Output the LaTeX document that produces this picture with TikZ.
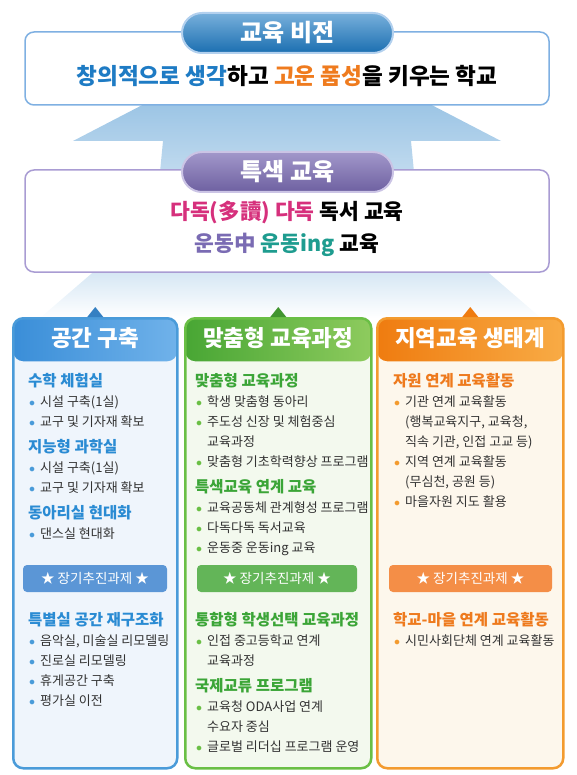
\documentclass[tikz,border=0pt]{standalone}
\usepackage{fontspec}
\setmainfont{Noto Sans CJK KR}
\usetikzlibrary{positioning}

\definecolor{visblue}{HTML}{1E7BC4}
\definecolor{visorange}{HTML}{EF7B1E}
\definecolor{visborder}{HTML}{7FB0E2}
\definecolor{spborder}{HTML}{A99CD3}
\definecolor{dpink}{HTML}{D6307C}
\definecolor{dpurple}{HTML}{7A6BB3}
\definecolor{dteal}{HTML}{1E9C8F}
\definecolor{textgray}{HTML}{333333}
% blue column
\definecolor{kblue}{HTML}{4A9BD9}
\definecolor{kbluel}{HTML}{3A8ED8}
\definecolor{kbluer}{HTML}{70B2EA}
\definecolor{kbluebg}{HTML}{EFF5FC}
\definecolor{kbluetx}{HTML}{2A8BD3}
\definecolor{kbluebn}{HTML}{5B96D6}
% green column
\definecolor{kgreen}{HTML}{6ABF45}
\definecolor{kgreenl}{HTML}{48A634}
\definecolor{kgreenr}{HTML}{8ECB5E}
\definecolor{kgreenbg}{HTML}{F3F9EE}
\definecolor{kgreentx}{HTML}{3BA537}
\definecolor{kgreenbn}{HTML}{63B558}
% orange column
\definecolor{korange}{HTML}{F39B2F}
\definecolor{korangel}{HTML}{EF7C10}
\definecolor{koranger}{HTML}{F8AB45}
\definecolor{korangebg}{HTML}{FDF7EC}
\definecolor{korangetx}{HTML}{EE7A1D}
\definecolor{korangebn}{HTML}{F48E47}

\newcommand{\hd}[2]{{\fontsize{15.5}{20}\selectfont\bfseries\textcolor{#1}{#2}}}
\newcommand{\itm}[2]{\makebox[12pt][l]{\hspace{1pt}\textcolor{#1}{$\bullet$}}#2}
\newcommand{\cont}{\hspace*{12pt}}

\begin{document}
\begin{tikzpicture}[x=1pt,y=1pt,
	mainbox/.style={draw=#1, line width=1.5pt, rounded corners=9pt, fill=white, minimum width=524pt},
	pill/.style={draw=#1, line width=2pt, rounded corners=20pt, minimum width=211pt, minimum height=40pt, text=white, font=\fontsize{24}{28}\selectfont\bfseries},
	column/.style={draw=#1, line width=2.5pt, rounded corners=10pt, anchor=north west, minimum height=450pt, fill=#1bg,
		path picture={\shade[left color=#1l, right color=#1r] (path picture bounding box.north west) rectangle ([yshift=-43pt]path picture bounding box.north east);}},
	headtext/.style={text=white, font=\fontsize{22.5}{26}\selectfont\bfseries},
	banner/.style={fill=#1, rounded corners=4pt, minimum height=27pt, text=white, font=\fontsize{13.5}{16}\selectfont},
	listtext/.style={anchor=north west, inner sep=0pt, align=left, text=textgray, font=\fontsize{13}{20}\selectfont}]
	\useasboundingbox (0,0) rectangle (576,-775);

	% big arrows behind the boxes
	\shade[top color=visblue!45, bottom color=visblue!28] (152,-100) -- (73,-141) -- (163,-141) -- (160,-172) -- (414,-172) -- (411,-141) -- (501,-141) -- (422,-100) -- cycle;
	\shade[top color=visblue!20, bottom color=white] (98,-268) -- (40,-318) -- (541,-318) -- (483,-268) -- cycle;

	% vision
	\node[mainbox=visborder, minimum height=73pt] (vis) at (287,-68.5) {};
	\node[pill=visborder!60, top color=visblue!60, bottom color=visblue!90!black] (vistag) at (287.5,-33) {교육 비전};
	\node[font=\fontsize{22.6}{26}\selectfont\bfseries] (vistext) at (287,-76)
		{\textcolor{visblue}{창의적으로 생각}하고 \textcolor{visorange}{고운 품성}을 키우는 학교};

	% special education
	\node[mainbox=spborder, minimum height=102pt] (spec) at (287,-221) {};
	\node[pill=spborder!60, top color=dpurple!70, bottom color=dpurple!90!black] (spectag) at (287.5,-172) {특색 교육};
	\node[align=center, font=\fontsize{21.5}{32}\selectfont\bfseries] (spectext) at (287,-229)
		{\textcolor{dpink}{다독(多讀) 다독} 독서 교육\\ \textcolor{dpurple}{운동中} \textcolor{dteal}{운동ing} 교육};

	% three columns
	\node[column=kblue, minimum width=164pt] (col1) at (12,-317) {};
	\node[column=kgreen, minimum width=186pt] (col2) at (184,-317) {};
	\node[column=korange, minimum width=186pt] (col3) at (376,-317) {};
	\fill[kbluel!90!black] ([xshift=-8pt]col1.north) -- ([yshift=10pt]col1.north) -- ([xshift=8pt]col1.north) -- cycle;
	\fill[kgreenl!90!black] ([xshift=-8pt]col2.north) -- ([yshift=10pt]col2.north) -- ([xshift=8pt]col2.north) -- cycle;
	\fill[korangel] ([xshift=-8pt]col3.north) -- ([yshift=10pt]col3.north) -- ([xshift=8pt]col3.north) -- cycle;
	\node[headtext, below=7pt of col1.north] (hd1) {공간 구축};
	\node[headtext, below=7pt of col2.north] (hd2) {맞춤형 교육과정};
	\node[headtext, below=7pt of col3.north] (hd3) {지역교육 생태계};

	\node[banner=kbluebn, minimum width=144pt] (star1) at (95,-578.5) {★ 장기추진과제 ★};
	\node[banner=kgreenbn, minimum width=160pt] (star2) at (277,-578.5) {★ 장기추진과제 ★};
	\node[banner=korangebn, minimum width=163pt] (star3) at (470.5,-578.5) {★ 장기추진과제 ★};

	% lists
	\node[listtext] (list1a) at (28,-373) {\hd{kbluetx}{수학 체험실}\\ \itm{kblue}{시설 구축(1실)}\\ \itm{kblue}{교구 및 기자재 확보}\\[6pt]
		\hd{kbluetx}{지능형 과학실}\\ \itm{kblue}{시설 구축(1실)}\\ \itm{kblue}{교구 및 기자재 확보}\\[6pt]
		\hd{kbluetx}{동아리실 현대화}\\ \itm{kblue}{댄스실 현대화}};
	\node[listtext] (list1b) at (28,-612) {\hd{kbluetx}{특별실 공간 재구조화}\\ \itm{kblue}{음악실, 미술실 리모델링}\\ \itm{kblue}{진로실 리모델링}\\
		\itm{kblue}{휴게공간 구축}\\ \itm{kblue}{평가실 이전}};
	\node[listtext] (list2a) at (195,-373) {\hd{kgreentx}{맞춤형 교육과정}\\ \itm{kgreen}{학생 맞춤형 동아리}\\ \itm{kgreen}{주도성 신장 및 체험중심}\\ \cont 교육과정\\
		\itm{kgreen}{맞춤형 기초학력향상 프로그램}\\[6pt]
		\hd{kgreentx}{특색교육 연계 교육}\\ \itm{kgreen}{교육공동체 관계형성 프로그램}\\ \itm{kgreen}{다독다독 독서교육}\\ \itm{kgreen}{운동중 운동ing 교육}};
	\node[listtext] (list2b) at (195,-612) {\hd{kgreentx}{통합형 학생선택 교육과정}\\ \itm{kgreen}{인접 중고등학교 연계}\\ \cont 교육과정\\[6pt]
		\hd{kgreentx}{국제교류 프로그램}\\ \itm{kgreen}{교육청 ODA사업 연계}\\ \cont 수요자 중심\\ \itm{kgreen}{글로벌 리더십 프로그램 운영}};
	\node[listtext] (list3a) at (393,-373) {\hd{korangetx}{자원 연계 교육활동}\\ \itm{korange}{기관 연계 교육활동}\\ \cont(행복교육지구, 교육청,\\ \cont 직속 기관, 인접 고교 등)\\
		\itm{korange}{지역 연계 교육활동}\\ \cont(무심천, 공원 등)\\ \itm{korange}{마을자원 지도 활용}};
	\node[listtext] (list3b) at (393,-612) {\hd{korangetx}{학교-마을 연계 교육활동}\\ \itm{korange}{시민사회단체 연계 교육활동}};
\end{tikzpicture}
\end{document}
